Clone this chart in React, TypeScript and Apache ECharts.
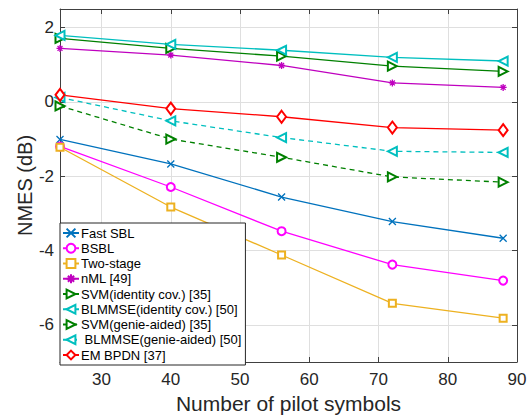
import React, { useEffect, useRef } from "react";
import * as echarts from "echarts";

const pilotSymbols = [24, 40, 56, 72, 88];
const fastSBL = [-1.01, -1.67, -2.56, -3.22, -3.67];
const bsbl = [-1.2, -2.29, -3.48, -4.38, -4.81];
const twoStage = [-1.22, -2.83, -4.12, -5.42, -5.82];
const nML = [1.44, 1.26, 0.98, 0.51, 0.39];
const svmIdentity = [1.71, 1.44, 1.23, 0.96, 0.82];
const blmmseIdentity = [1.79, 1.55, 1.39, 1.2, 1.1];
const svmGenie = [-0.11, -1.0, -1.49, -2.02, -2.16];
const blmmseGenie = [0.12, -0.51, -0.96, -1.33, -1.36];
const emBPDN = [0.19, -0.18, -0.4, -0.69, -0.76];

const xTicks = [30, 40, 50, 60, 70, 80, 90];
const yTicks = [-6, -4, -2, 0, 2];

const FONT = "'Liberation Sans', Arial, Helvetica, sans-serif";
const TEXT = "#262626";
const AXIS = "#404040";

const X_MARK = "path://M0,0L10,10M10,0L0,10";
const STAR_MARK = "path://M5,0L5,10M0,5L10,5M1.5,1.5L8.5,8.5M8.5,1.5L1.5,8.5";

type Spec = {
  name: string;
  data: number[];
  color: string;
  symbol: string;
  size: number | number[];
  rotate?: number;
  dashed?: boolean;
  pathMark?: boolean;
};

const specs: Spec[] = [
  { name: "Fast SBL", data: fastSBL, color: "#0072BD", symbol: X_MARK, size: 7, pathMark: true },
  { name: "BSBL", data: bsbl, color: "#FF00FF", symbol: "emptyCircle", size: 8 },
  { name: "Two-stage", data: twoStage, color: "#EDB120", symbol: "emptyRect", size: 7 },
  { name: "nML [49]", data: nML, color: "#BF00BF", symbol: STAR_MARK, size: 7, pathMark: true },
  { name: "SVM(identity cov.) [35]", data: svmIdentity, color: "#008000", symbol: "emptyTriangle", size: 9, rotate: -90 },
  { name: "BLMMSE(identity cov.) [50]", data: blmmseIdentity, color: "#00BFBF", symbol: "emptyTriangle", size: 9, rotate: 90 },
  { name: "SVM(genie-aided) [35]", data: svmGenie, color: "#008000", symbol: "emptyTriangle", size: 9, rotate: -90, dashed: true },
  { name: " BLMMSE(genie-aided) [50]", data: blmmseGenie, color: "#00BFBF", symbol: "emptyTriangle", size: 9, rotate: 90, dashed: true },
  { name: "EM BPDN [37]", data: emBPDN, color: "#FF0000", symbol: "emptyDiamond", size: [9, 12] },
];

export default function App() {
  const ref = useRef<HTMLDivElement>(null);
  useEffect(() => {
    if (!ref.current) return;
    const chart = echarts.init(ref.current, undefined, { renderer: "svg" });
    const series = specs.map((s) => ({
      name: s.name,
      type: "line",
      data: pilotSymbols.map((x, i) => [x, s.data[i]]),
      symbol: s.symbol,
      symbolSize: s.size,
      symbolRotate: s.rotate ?? 0,
      showAllSymbol: true,
      clip: false,
      lineStyle: { color: s.color, width: 1.3, type: s.dashed ? [5, 4] : "solid" },
      itemStyle: {
        color: s.color,
        borderColor: s.color,
        borderWidth: s.pathMark ? 1.3 : 1.1,
      },
      emphasis: { disabled: true },
      z: 3,
    }));
    const option = {
      animation: false,
      textStyle: { fontFamily: FONT },
      grid: { left: 60, right: 15, top: 9, bottom: 54, containLabel: false },
      legend: {
        orient: "vertical",
        left: 60,
        top: 223,
        padding: [3, 4, 3, 2],
        itemWidth: 16,
        itemHeight: 11,
        itemGap: 1.25,
        backgroundColor: "#ffffff",
        borderColor: "#262626",
        borderWidth: 1,
        borderRadius: 0,
        z: 10,
        textStyle: { fontFamily: FONT, fontSize: 13, color: "#000", lineHeight: 14, padding: [0, 0, 0, -3] },
        data: specs.map((s) => s.name),
      },
      xAxis: [
        {
          type: "value",
          min: 24,
          max: 90,
          name: "Number of pilot symbols",
          nameLocation: "middle",
          nameGap: 31,
          nameMoveOverlap: false,
          nameTextStyle: { fontFamily: FONT, fontSize: 21, color: TEXT },
          axisLine: { show: true, onZero: false, lineStyle: { color: AXIS, width: 1 } },
          axisTick: { show: true, inside: true, length: 5, customValues: xTicks, lineStyle: { color: AXIS } },
          axisLabel: { customValues: xTicks, fontFamily: FONT, fontSize: 17, color: TEXT, margin: 9 },
          splitLine: { show: true, lineStyle: { color: "#dfdfdf", width: 1 } },
        },
        {
          type: "value",
          position: "top",
          min: 24,
          max: 90,
          axisLine: { show: true, onZero: false, lineStyle: { color: AXIS, width: 1 } },
          axisTick: { show: true, inside: true, length: 5, customValues: xTicks, lineStyle: { color: AXIS } },
          axisLabel: { show: false },
          splitLine: { show: false },
        },
      ],
      yAxis: [
        {
          type: "value",
          min: -7,
          max: 2.5,
          name: "NMES (dB)",
          nameLocation: "middle",
          nameGap: 25,
          nameMoveOverlap: false,
          nameTextStyle: { fontFamily: FONT, fontSize: 20, color: TEXT },
          axisLine: { show: true, onZero: false, lineStyle: { color: AXIS, width: 1 } },
          axisTick: { show: true, inside: true, length: 5, customValues: yTicks, lineStyle: { color: AXIS } },
          axisLabel: { customValues: yTicks, fontFamily: FONT, fontSize: 17, color: TEXT, margin: 6 },
          splitLine: { show: true, lineStyle: { color: "#dfdfdf", width: 1 } },
        },
        {
          type: "value",
          position: "right",
          min: -7,
          max: 2.5,
          axisLine: { show: true, onZero: false, lineStyle: { color: AXIS, width: 1 } },
          axisTick: { show: true, inside: true, length: 5, customValues: yTicks, lineStyle: { color: AXIS } },
          axisLabel: { show: false },
          splitLine: { show: false },
        },
      ],
      series,
    };
    chart.setOption(option as any);
    return () => chart.dispose();
  }, []);
  return (
    <div
      ref={ref}
      style={{ position: "fixed", left: 0, top: 0, width: 532, height: 419, background: "#fff" }}
    />
  );
}
